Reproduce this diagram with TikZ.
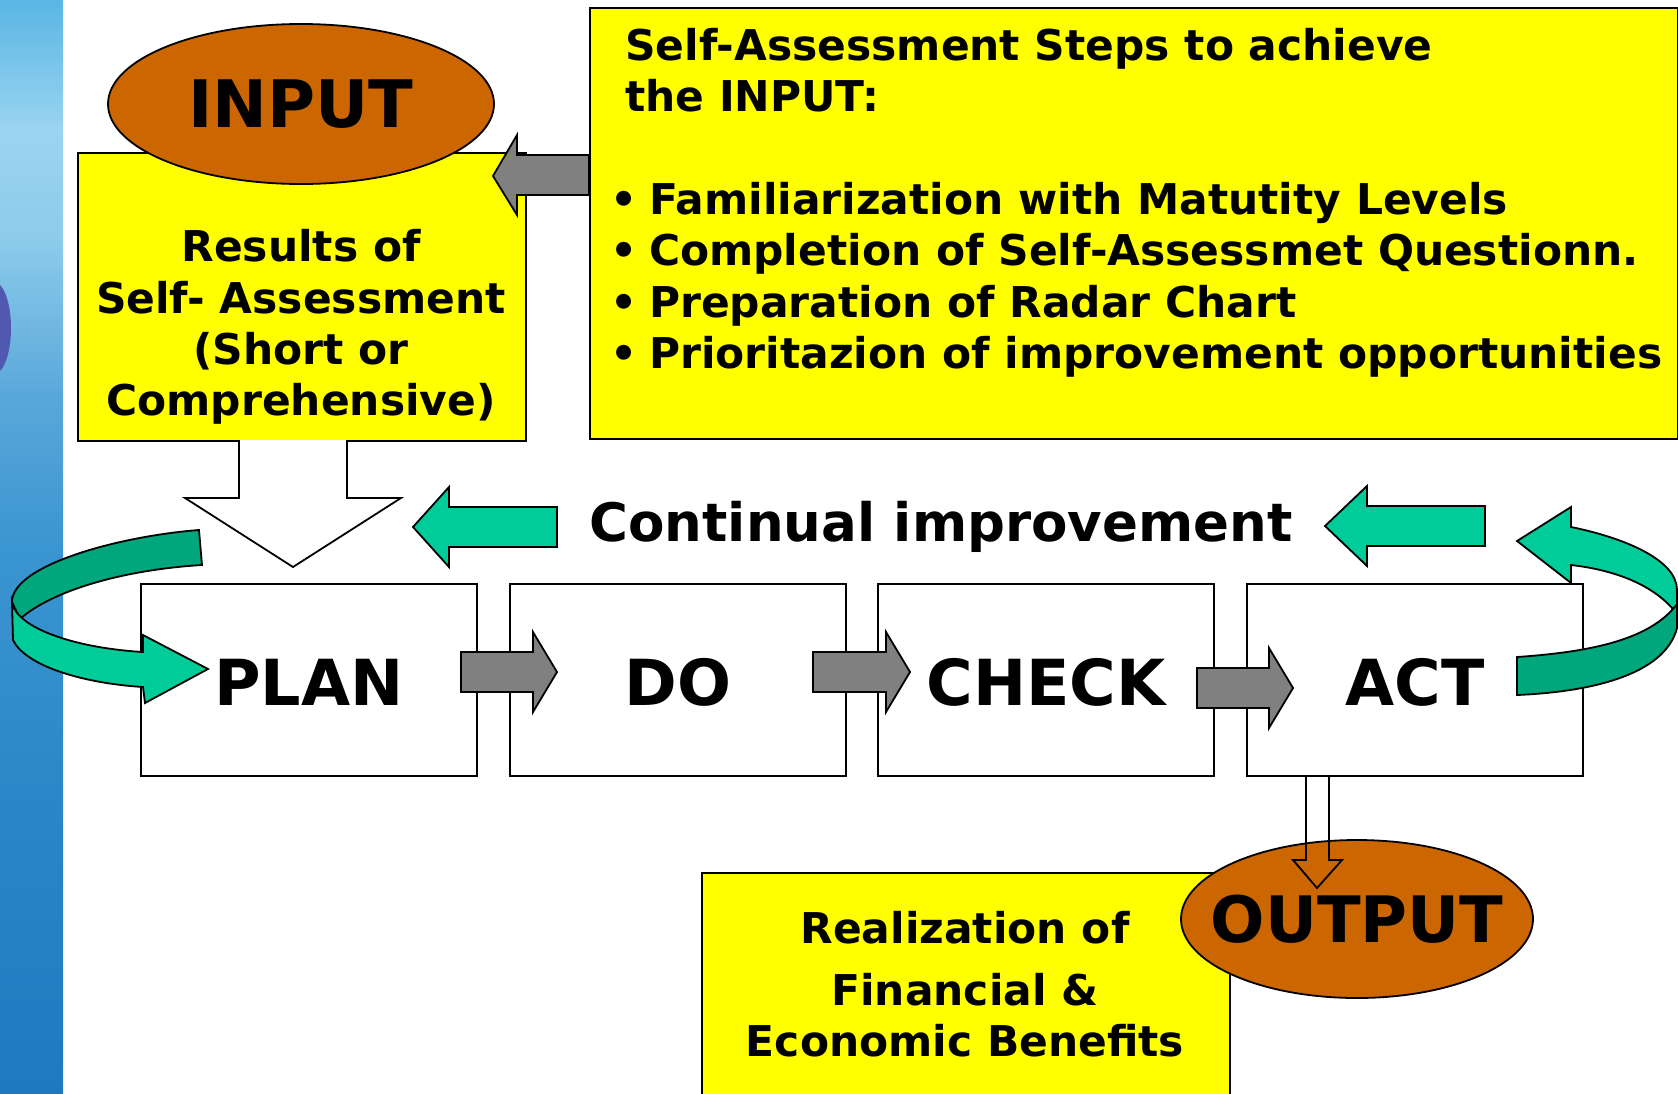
\documentclass[tikz,border=0pt]{standalone}
\usepackage{fontspec}
\setmainfont{DejaVu Sans}
\usetikzlibrary{shapes.geometric}
\definecolor{boxyellow}{HTML}{FFFF00}
\definecolor{ovalorange}{HTML}{CC6600}
\definecolor{arrowgray}{HTML}{808080}
\definecolor{teallight}{HTML}{00CC99}
\definecolor{tealdark}{HTML}{00A67C}
\definecolor{blobcol}{HTML}{5058B0}
\definecolor{wA}{HTML}{5AB6E4}
\definecolor{wAA}{HTML}{9AD4F0}
\definecolor{wB}{HTML}{8CCBEB}
\definecolor{wC}{HTML}{5AA8DA}
\definecolor{wD}{HTML}{3B95D0}
\definecolor{wE}{HTML}{2A86C8}
\definecolor{wF}{HTML}{1F79BF}
\pgfdeclareverticalshading{waterstrip}{100bp}{color(0bp)=(wF); color(25bp)=(wF); color(38bp)=(wE); color(50bp)=(wD); color(57bp)=(wC); color(64bp)=(wB); color(69bp)=(wAA); color(75bp)=(wA); color(100bp)=(wA)}
\begin{document}
\begin{tikzpicture}[x=1pt,y=-1pt,
  outl/.style={draw=black,line width=1.8pt,line join=miter},
  txt/.style={font=\fontsize{42.4}{51}\selectfont\bfseries,inner sep=0pt},
  oval/.style={ellipse,outl,fill=ovalorange,inner sep=0pt},
  ovaltext/.style={inner sep=0pt,font=\fontsize{64}{70}\selectfont\bfseries},
  panel/.style={rectangle,outl,fill=boxyellow,inner sep=0pt,anchor=north west},
  stage/.style={rectangle,outl,fill=white,inner sep=0pt,anchor=north west,minimum width=336pt,minimum height=192pt},
  stagetext/.style={inner sep=0pt,font=\fontsize{63.5}{70}\selectfont\bfseries},
  grayarrow/.style={outl,fill=arrowgray},
  tealarrow/.style={outl,fill=teallight},
  hollowarrow/.style={outl,fill=none}]
\useasboundingbox (0,0) rectangle (1678,1093);
\clip (0,0) rectangle (1678,1093);
% left water strip
\shade[shading=waterstrip] (0,0) rectangle (63,1093);
\begin{scope}
\clip (0,0) rectangle (63,1093);
\fill[blobcol] (-6,328) ellipse [x radius=17, y radius=46];
\end{scope}
% top panels
\node[panel,minimum width=1088pt,minimum height=431pt] (steps) at (589,7) {};
\node[panel,minimum width=448pt,minimum height=288pt] (results) at (77,152) {};
\node[oval,minimum width=386pt,minimum height=160pt] (input) at (301,104) {};
\node[ovaltext,font=\fontsize{65.5}{70}\selectfont\bfseries] (inputlabel) at (input.center) {INPUT};
% gray arrow from steps to results
\draw[grayarrow] (589,155) -- (517,155) -- (517,135) -- (493,176) -- (517,215) -- (517,195) -- (589,195) -- cycle;
% texts of results
\node[txt,anchor=base] (r1) at (301,261) {Results of};
\node[txt,anchor=base] (r2) at (301,313) {Self- Assessment};
\node[txt,anchor=base] (r3) at (301,364) {(Short or};
\node[txt,anchor=base] (r4) at (301,415) {Comprehensive)};
% texts of steps
\node[txt,anchor=base west] (s1) at (625,60) {Self-Assessment Steps to achieve};
\node[txt,anchor=base west] (s2) at (625,111) {the INPUT:};
\node[txt,anchor=base west] (b1) at (610,214) {•};
\node[txt,anchor=base west] (b2) at (610,265) {•};
\node[txt,anchor=base west] (b3) at (610,317) {•};
\node[txt,anchor=base west] (b4) at (610,368) {•};
\node[txt,anchor=base west] (t1) at (649,214) {Familiarization with Matutity Levels};
\node[txt,anchor=base west] (t2) at (649,265) {Completion of Self-Assessmet Questionn.};
\node[txt,anchor=base west] (t3) at (649,317) {Preparation of Radar Chart};
\node[txt,anchor=base west] (t4) at (649,368) {Prioritazion of improvement opportunities};
% white down arrow from results to plan
\draw[outl,fill=white] (239,440) -- (239,498) -- (185,498) -- (293,567) -- (401,498) -- (347,498) -- (347,440);
% continual improvement
\draw[tealarrow] (557,507) -- (449,507) -- (449,487) -- (413,527) -- (449,567) -- (449,547) -- (557,547) -- cycle;
\draw[tealarrow] (1485,506) -- (1367,506) -- (1367,486) -- (1325,526) -- (1367,566) -- (1367,546) -- (1485,546) -- cycle;
\node[inner sep=0pt,anchor=base,font=\fontsize{53}{60}\selectfont\bfseries] (ci) at (941,541) {Continual improvement};
% PDCA stages
\node[stage] (plan) at (140,583) {};
\node[stage] (do) at (509,583) {};
\node[stage] (check) at (877,583) {};
\node[stage] (act) at (1246,583) {};
\node[stagetext] (planlabel) at ([yshift=-2pt]plan.center) {PLAN};
\node[stagetext] (dolabel) at ([yshift=-2pt]do.center) {DO};
\node[stagetext] (checklabel) at ([yshift=-2pt]check.center) {CHECK};
\node[stagetext] (actlabel) at ([yshift=-2pt]act.center) {ACT};
% gray arrows between stages
\draw[grayarrow] (461,652) -- (533,652) -- (533,632) -- (557,672) -- (533,712) -- (533,692) -- (461,692) -- cycle;
\draw[grayarrow] (813,652) -- (886,652) -- (886,632) -- (910,672) -- (886,712) -- (886,692) -- (813,692) -- cycle;
\draw[grayarrow] (1197,668) -- (1269,668) -- (1269,648) -- (1293,688) -- (1269,728) -- (1269,708) -- (1197,708) -- cycle;
% left curved arrow
\draw[outl,fill=tealdark] (199,530) .. controls (120,536) and (12,565) .. (12,602) -- (20,619) .. controls (50,592) and (120,570) .. (202,565) -- cycle;
\draw[outl,fill=teallight] (12,602) -- (13,640) .. controls (25,665) and (80,683) .. (143,687) -- (145,703) -- (208,669) -- (143,635) -- (143,652) .. controls (75,648) and (16,628) .. (12,602) -- cycle;
% right curved arrow
\draw[outl,fill=teallight] (1517,541) -- (1571,507) -- (1571,527) .. controls (1625,538) and (1677,560) .. (1677,590) -- (1677,614) .. controls (1655,585) and (1615,570) .. (1571,565) -- (1571,583) -- cycle;
\draw[outl,fill=tealdark] (1677,604) .. controls (1650,640) and (1590,652) .. (1517,657) -- (1517,695) .. controls (1590,692) and (1665,675) .. (1677,628) -- cycle;
% output
\node[panel,minimum width=528pt,minimum height=240pt] (benefits) at (701,872) {};
\node[txt,anchor=base] (e1) at (965,943) {Realization of};
\node[txt,anchor=base] (e2) at (965,1005) {Financial \&};
\node[txt,anchor=base] (e3) at (965,1056) {Economic Benefits};
\node[oval,minimum width=352pt,minimum height=158pt] (output) at (1357,919) {};
\node[ovaltext] (outputlabel) at (output.center) {OUTPUT};
\draw[hollowarrow] (1306,775) -- (1306,860) -- (1293,860) -- (1317,888) -- (1342,860) -- (1329,860) -- (1329,775);
\end{tikzpicture}
\end{document}
